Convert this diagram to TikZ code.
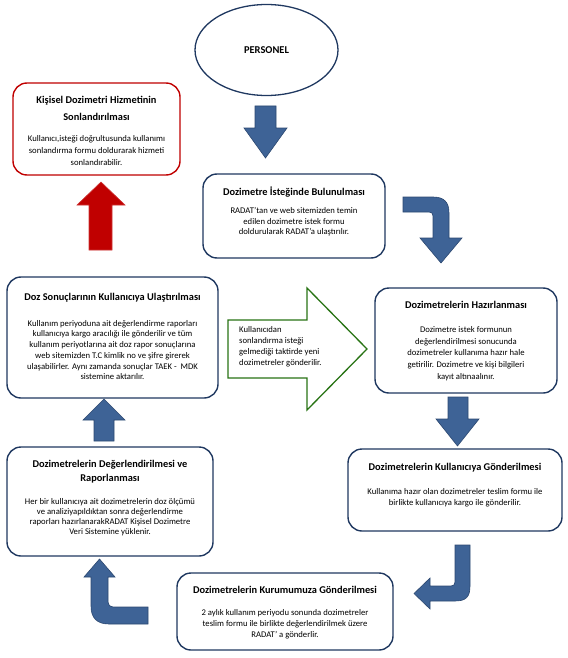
\documentclass[tikz,border=0pt]{standalone}
\usepackage{fontspec}
\setmainfont{Carlito}
\usetikzlibrary{shapes.geometric}
\definecolor{navy}{RGB}{31,56,96}
\definecolor{arrowblue}{RGB}{62,99,150}
\definecolor{arrowedge}{RGB}{44,72,112}
\definecolor{boxred}{RGB}{192,0,0}
\definecolor{arrowgreen}{RGB}{40,115,20}
\tikzset{
  box/.style={draw=navy, line width=1.4bp, rounded corners=14bp, fill=white, inner sep=0pt},
  redbox/.style={box, draw=boxred},
  ttl/.style={font=\fontsize{10.4}{15}\selectfont\bfseries, align=center, inner sep=0pt},
  bdy/.style={font=\fontsize{8.7}{11}\selectfont, align=center, inner sep=0pt},
  blockarrow/.style={fill=arrowblue, draw=arrowedge, line width=0.6bp},
  redarrow/.style={fill=boxred, draw=boxred!80!white, line width=0.6bp},
  greenarrow/.style={fill=white, draw=arrowgreen, line width=1.3bp, line join=miter},
}
\begin{document}
\begin{tikzpicture}[x=1bp,y=-1bp]
\useasboundingbox (0,0) rectangle (568,658);

% ellipse
\node[ellipse, draw=navy, line width=1.3bp, minimum width=143bp, minimum height=91bp,
      font=\fontsize{10.5}{12}\selectfont\bfseries] (pers) at (266.5,50) {PERSONEL};

% boxes
\node[redbox, minimum width=167bp, minimum height=92bp] (bred) at (96.5,129) {};
\node[box, minimum width=182bp, minimum height=84bp] (b2) at (294,216) {};
\node[box, minimum width=211bp, minimum height=121bp] (b3) at (112.5,337.5) {};
\node[box, minimum width=182bp, minimum height=105bp] (b4) at (466,340.5) {};
\node[box, minimum width=214bp, minimum height=82bp] (b5) at (455,490) {};
\node[box, minimum width=206bp, minimum height=109bp] (b7) at (110,501.5) {};
\node[box, minimum width=216bp, minimum height=77bp] (b6) at (285,611.5) {};

% texts
\node[ttl, font=\fontsize{10.4}{16.5}\selectfont\bfseries] (tred) at (96.5,108.5) {Kişisel Dozimetri Hizmetinin\\Sonlandırılması};
\node[bdy, font=\fontsize{8.7}{12.5}\selectfont] (xred) at (96.5,150.5) {Kullanıcı,isteği doğrultusunda kullanımı\\sonlandırma formu doldurarak hizmeti\\sonlandırabilir.};

\node[ttl] (t2) at (294,192) {Dozimetre İsteğinde Bulunulması};
\node[bdy, font=\fontsize{8.7}{10.5}\selectfont] (x2) at (294,222) {RADAT’tan ve web sitemizden temin\\edilen dozimetre istek formu\\doldurularak RADAT’a ulaştırılır.};

\node[ttl] (t3) at (112.5,298) {Doz Sonuçlarının Kullanıcıya Ulaştırılması};
\node[bdy, font=\fontsize{8.7}{10.8}\selectfont] (x3) at (112.5,350) {Kullanım periyoduna ait değerlendirme raporları\\kullanıcıya kargo aracılığı ile gönderilir ve tüm\\kullanım periyotlarına ait doz rapor sonuçlarına\\web sitemizden T.C kimlik no ve şifre girerek\\ulaşabilirler. Aynı zamanda sonuçlar TAEK -~~MDK\\sistemine aktarılır.};

\node[ttl] (t4) at (466,305) {Dozimetrelerin Hazırlanması};
\node[bdy, font=\fontsize{8.7}{11.7}\selectfont] (x4) at (466,353.5) {Dozimetre istek formunun\\değerlendirilmesi sonucunda\\dozimetreler kullanıma hazır hale\\getirilir. Dozimetre ve kişi bilgileri\\kayıt altınaalınır.};

\node[ttl] (t5) at (455,468) {Dozimetrelerin Kullanıcıya Gönderilmesi};
\node[bdy] (x5) at (455,497.5) {Kullanıma hazır olan dozimetreler teslim formu ile\\birlikte kullanıcıya kargo ile gönderilir.};

\node[ttl, font=\fontsize{10.4}{14}\selectfont\bfseries] (t7) at (110,472) {Dozimetrelerin Değerlendirilmesi ve\\Raporlanması};
\node[bdy, font=\fontsize{8.7}{10}\selectfont] (x7) at (110,517) {Her bir kullanıcıya ait dozimetrelerin doz ölçümü\\ve analiziyapıldıktan sonra değerlendirme\\raporları hazırlanarakRADAT Kişisel Dozimetre\\Veri Sistemine yüklenir.};

\node[ttl] (t6) at (285,590) {Dozimetrelerin Kurumumuza Gönderilmesi};
\node[bdy] (x6) at (285,624) {2 aylık kullanım periyodu sonunda dozimetreler\\teslim formu ile birlikte değerlendirilmek üzere\\RADAT’ a gönderlir.};

% arrows
% personel -> b2
\path[blockarrow] (255,106) -- (276,106) -- (276,128) -- (287,128) -- (265.5,158) -- (244,128) -- (255,128) -- cycle;
% red up arrow
\path[redarrow] (89,250) -- (112,250) -- (112,205) -- (125,205) -- (101,182) -- (77,205) -- (89,205) -- cycle;
% b2 -> b4 bent
\path[blockarrow] (403,197) -- (433,197) .. controls (444,197) and (449,202) .. (449,213) -- (449,238) -- (462,238) -- (441,263) -- (420,238) -- (433,238) -- (433,216) .. controls (433,213.5) and (431.5,212) .. (429,212) -- (403,212) -- cycle;
% green arrow
\path[greenarrow] (228,320) -- (307,320) -- (307,288) -- (367,349) -- (307,410) -- (307,378) -- (228,378) -- cycle;
\node[bdy, align=left, anchor=west, font=\fontsize{8.7}{11}\selectfont] (xg) at (239,346.5) {Kullanıcıdan\\sonlandırma isteği\\gelmediği taktirde yeni\\dozimetreler gönderilir.};
% b4 -> b5
\path[blockarrow] (448,397) -- (468,397) -- (468,419) -- (479,419) -- (457.5,446) -- (436,419) -- (448,419) -- cycle;
% b5 -> b6 bent
\path[blockarrow] (455,545) -- (470,545) -- (470,586) .. controls (470,597) and (466,601) .. (455,601) -- (430,601) -- (430,609) -- (414,593.5) -- (430,578) -- (430,586) -- (451,586) .. controls (453.5,586) and (455,584.5) .. (455,582) -- cycle;
% b6 -> b7 bent
\path[blockarrow] (148,607) -- (113,607) .. controls (110,607) and (108,605) .. (108,602) -- (108,577) -- (115,577) -- (99.5,559) -- (84,577) -- (91,577) -- (91,606) .. controls (91,618) and (97,624) .. (109,624) -- (148,624) -- cycle;
% b7 -> b3
\path[blockarrow] (94,441) -- (114,441) -- (114,420) -- (125,420) -- (104,399) -- (83,420) -- (94,420) -- cycle;
\end{tikzpicture}
\end{document}
